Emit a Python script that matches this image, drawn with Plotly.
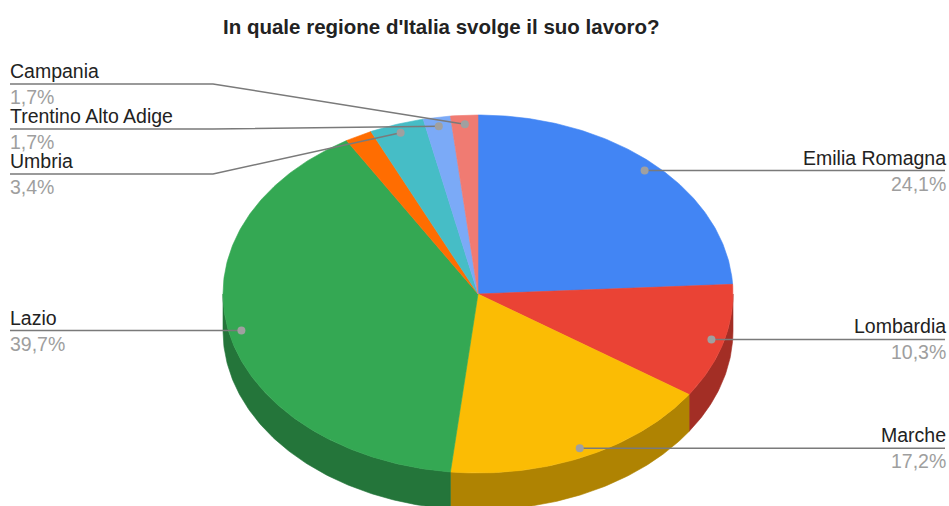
import numpy as np
import plotly.graph_objects as go

# Survey answers: region where the respondent works
regioni = ["Emilia Romagna", "Lombardia", "Marche", "Lazio", "",
           "Umbria", "Trentino Alto Adige", "Campania"]
risposte = [14, 6, 10, 23, 1, 2, 1, 1]
colori = ["#4285F4", "#EA4335", "#FBBC04", "#34A853", "#FF6D01",
          "#46BDC6", "#7BAAF7", "#F07B72"]
titolo = "In quale regione d'Italia svolge il suo lavoro?"

W, H = 949, 506
# pie geometry in pixel space (tilted disc)
CX, CY, RX, RY, DEPTH = 478, 294, 255, 179, 37
DOT_R = 0.95
FONT = "Liberation Sans, Arial, sans-serif"

# leader-line placement per label: side, and optional (elbow x, line y)
placement = {
    "Emilia Romagna": ("right", None),
    "Lombardia": ("right", None),
    "Marche": ("right", None),
    "Lazio": ("left", None),
    "Umbria": ("left", (213, 174)),
    "Trentino Alto Adige": ("left", (213, 129)),
    "Campania": ("left", (213, 84)),
}


def darker(hex_col, f=0.7):
    h = hex_col.lstrip("#")
    r, g, b = (int(h[i:i + 2], 16) for i in (0, 2, 4))
    return "rgb(%d,%d,%d)" % (r * f, g * f, b * f)


def arc(a0, a1, dy=0.0, n=None):
    n = n or max(8, int(abs(a1 - a0) * 1.5))
    t = np.radians(np.linspace(a0, a1, n))
    return CX + RX * np.sin(t), CY - RY * np.cos(t) + dy


tot = sum(risposte)
quote = [v / tot for v in risposte]
edges = np.concatenate([[0], np.cumsum(quote)]) * 360.0

fig = go.Figure()

# side walls (front half only, 90..270 degrees clockwise from top)
for i, col in enumerate(colori):
    lo, hi = max(edges[i], 90.0), min(edges[i + 1], 270.0)
    if hi <= lo:
        continue
    xt, yt = arc(lo, hi)
    xb, yb = arc(hi, lo, DEPTH)
    fig.add_trace(go.Scatter(
        x=np.concatenate([xt, xb, xt[:1]]), y=np.concatenate([yt, yb, yt[:1]]),
        mode="lines", fill="toself", fillcolor=darker(col),
        line=dict(color=darker(col), width=0.6), hoverinfo="skip", showlegend=False))

# top faces
for i, col in enumerate(colori):
    xa, ya = arc(edges[i], edges[i + 1])
    fig.add_trace(go.Scatter(
        x=np.concatenate([[CX], xa, [CX]]), y=np.concatenate([[CY], ya, [CY]]),
        mode="lines", fill="toself", fillcolor=col,
        line=dict(color=col, width=0.6), hoverinfo="skip", showlegend=False,
        name=regioni[i]))

annotations = []
for i, nome in enumerate(regioni):
    if not nome:
        continue
    mid = np.radians((edges[i] + edges[i + 1]) / 2)
    dx = CX + DOT_R * RX * np.sin(mid)
    dy = CY - DOT_R * RY * np.cos(mid)
    side, elbow = placement[nome]
    x_end = W - 4 if side == "right" else 10
    if elbow is None:
        lx, ly = [dx, x_end], [dy, dy]
        y_line = dy
    else:
        lx, ly = [dx, elbow[0], x_end], [dy, elbow[1], elbow[1]]
        y_line = elbow[1]
    fig.add_trace(go.Scatter(x=lx, y=ly, mode="lines",
                             line=dict(color="#7a7a7a", width=1.5),
                             hoverinfo="skip", showlegend=False))
    fig.add_trace(go.Scatter(x=[dx], y=[dy], mode="markers",
                             marker=dict(color="#a0a0a0", size=8),
                             hoverinfo="skip", showlegend=False))
    anchor = "right" if side == "right" else "left"
    tx = W - 1 if side == "right" else x_end - 2
    pct = ("%.1f%%" % (quote[i] * 100)).replace(".", ",")
    annotations.append(dict(x=tx, y=y_line - 13, text=nome, showarrow=False,
                            xanchor=anchor, yanchor="middle", xref="x", yref="y",
                            font=dict(family=FONT, size=19.5, color="#222222")))
    annotations.append(dict(x=tx, y=y_line + 13, text=pct, showarrow=False,
                            xanchor=anchor, yanchor="middle", xref="x", yref="y",
                            font=dict(family=FONT, size=19.5, color="#9e9e9e")))

annotations.append(dict(x=441, y=26, text="<b>%s</b>" % titolo, showarrow=False,
                        xanchor="center", yanchor="middle", xref="x", yref="y",
                        font=dict(family=FONT, size=20.5, color="#222222")))

fig.update_layout(
    width=W, height=H, margin=dict(l=0, r=0, t=0, b=0),
    paper_bgcolor="white", plot_bgcolor="white",
    xaxis=dict(range=[0, W], visible=False, fixedrange=True),
    yaxis=dict(range=[H, 0], visible=False, fixedrange=True),
    annotations=annotations, showlegend=False,
)

fig.write_html("out.html", config={"displayModeBar": False})
